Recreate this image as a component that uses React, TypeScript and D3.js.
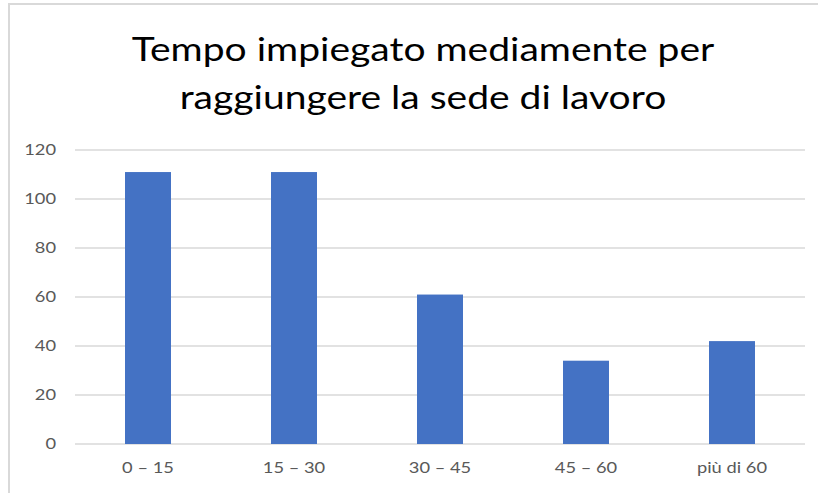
import React, { useEffect, useRef } from 'react';
import * as d3 from 'd3';

const categories = ['0 – 15', '15 – 30', '30 – 45', '45 – 60', 'più di 60'];
const values = [111, 111, 61, 34, 42];
const yTicks = [0, 20, 40, 60, 80, 100, 120];
const titleLines = ['Tempo impiegato mediamente per', 'raggiungere la sede di lavoro'];

const App = () => {
  const ref = useRef<SVGSVGElement>(null);

  useEffect(() => {
    const width = 818;
    const height = 493;
    const margin = { top: 150, right: 13, bottom: 49, left: 75 };
    const font = 'Lato, "Open Sans", sans-serif';
    const stretch = 1.22; // il testo dell'originale è più largo

    const svg = d3.select(ref.current);
    svg.selectAll('*').remove();

    // cornice
    svg.append('rect')
      .attr('x', 9).attr('y', 4)
      .attr('width', width + 10).attr('height', height + 10)
      .attr('fill', '#fff')
      .attr('stroke', '#d9d9d9')
      .attr('stroke-width', 2);

    const xScale = d3.scaleBand()
      .domain(categories)
      .range([margin.left, width - margin.right])
      .paddingInner(0.685)
      .paddingOuter(0.3425);
    const yScale = d3.scaleLinear().domain([0, 120]).range([height - margin.bottom, margin.top]);

    // griglia
    svg.append('g')
      .selectAll('line')
      .data(yTicks)
      .join('line')
      .attr('x1', margin.left)
      .attr('x2', width - margin.right)
      .attr('y1', d => yScale(d))
      .attr('y2', d => yScale(d))
      .attr('stroke', '#d9d9d9')
      .attr('stroke-width', 1.5);

    svg.append('g')
      .selectAll('text')
      .data(yTicks)
      .join('text')
      .attr('transform', d => `translate(56,${yScale(d)}) scale(${stretch},1)`)
      .attr('dy', '0.35em')
      .attr('text-anchor', 'end')
      .style('font-family', font)
      .style('font-size', '15px')
      .style('fill', '#595959')
      .text(d => d);

    // barre
    svg.append('g')
      .selectAll('rect')
      .data(values)
      .join('rect')
      .attr('x', (d, i) => xScale(categories[i])!)
      .attr('y', d => yScale(d))
      .attr('width', xScale.bandwidth())
      .attr('height', d => yScale(0) - yScale(d))
      .attr('fill', '#4472c4');

    svg.append('g')
      .selectAll('text')
      .data(categories)
      .join('text')
      .attr('transform', d => `translate(${xScale(d)! + xScale.bandwidth() / 2},473) scale(${stretch},1)`)
      .attr('text-anchor', 'middle')
      .style('font-family', font)
      .style('font-size', '15px')
      .style('fill', '#595959')
      .text(d => d);

    // titolo
    svg.append('g')
      .selectAll('text')
      .data(titleLines)
      .join('text')
      .attr('transform', (d, i) => `translate(423,${61 + i * 48}) scale(${stretch},1)`)
      .attr('text-anchor', 'middle')
      .style('font-family', font)
      .style('font-size', '32px')
      .style('fill', '#000')
      .text(d => d);
  }, []);

  return (
    <svg
      ref={ref}
      width={818}
      height={493}
      style={{ position: 'absolute', left: 0, top: 0, background: '#fff' }}
    />
  );
};

export default App;
